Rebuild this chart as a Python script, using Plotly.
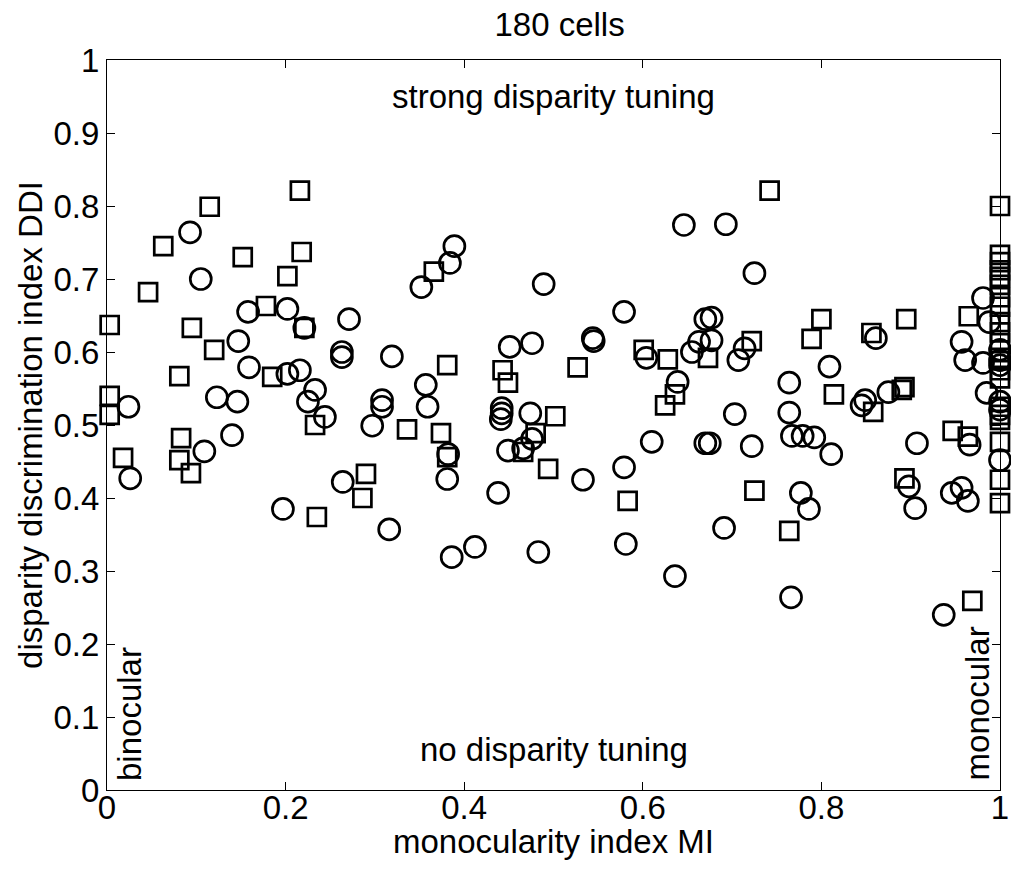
import plotly.graph_objects as go

# Circles (monocularity index MI, disparity discrimination index DDI)
circle_mi = [0.024, 0.026, 0.093, 0.105, 0.147, 0.158, 0.159, 0.123, 0.146, 0.140, 0.109,
             0.202, 0.221, 0.271, 0.263, 0.263, 0.319, 0.202, 0.216, 0.233, 0.225, 0.244,
             0.308, 0.308, 0.297, 0.264, 0.197, 0.316,
             0.389, 0.384, 0.352, 0.489, 0.357, 0.359, 0.451, 0.476, 0.442, 0.442, 0.441,
             0.474, 0.382, 0.381, 0.476, 0.466, 0.449, 0.438, 0.386, 0.412, 0.483,
             0.646, 0.579, 0.544, 0.545, 0.604, 0.655, 0.663, 0.670, 0.639, 0.533, 0.579,
             0.610, 0.670, 0.581, 0.636,
             0.693, 0.725, 0.677, 0.677, 0.714, 0.707, 0.809, 0.764, 0.703, 0.764, 0.675,
             0.722, 0.767, 0.779, 0.792, 0.811, 0.777, 0.786, 0.691, 0.766,
             0.981, 0.988, 0.957, 0.961, 0.981, 1.000, 1.000, 1.000, 0.985, 1.000, 0.861,
             0.875, 0.849, 0.845, 0.907, 0.966, 0.898, 0.905, 0.946, 0.957, 0.964, 0.937,
             1.000, 1.000]
circle_ddi = [0.525, 0.427, 0.764, 0.700, 0.615, 0.655, 0.579, 0.538, 0.532, 0.486, 0.464,
              0.659, 0.633, 0.645, 0.600, 0.593, 0.594, 0.570, 0.575, 0.548, 0.532, 0.511,
              0.534, 0.525, 0.499, 0.422, 0.385, 0.357,
              0.745, 0.722, 0.689, 0.693, 0.555, 0.525, 0.607, 0.612, 0.523, 0.516, 0.508,
              0.516, 0.460, 0.426, 0.481, 0.468, 0.465, 0.407, 0.319, 0.333, 0.326,
              0.774, 0.655, 0.619, 0.615, 0.592, 0.600, 0.614, 0.645, 0.559, 0.425, 0.442,
              0.477, 0.475, 0.337, 0.293,
              0.775, 0.708, 0.647, 0.616, 0.605, 0.589, 0.580, 0.558, 0.515, 0.517, 0.475,
              0.471, 0.485, 0.485, 0.483, 0.460, 0.407, 0.385, 0.359, 0.264,
              0.674, 0.641, 0.614, 0.589, 0.585, 0.603, 0.589, 0.582, 0.544, 0.532, 0.619,
              0.545, 0.534, 0.527, 0.475, 0.473, 0.416, 0.386, 0.407, 0.414, 0.396, 0.240,
              0.521, 0.452]

# Squares
square_mi = [0.003, 0.003, 0.003, 0.018, 0.046, 0.063, 0.115, 0.095, 0.120, 0.152, 0.081,
             0.083, 0.081, 0.094,
             0.216, 0.218, 0.202, 0.178, 0.221, 0.185, 0.233, 0.290, 0.286, 0.235,
             0.366, 0.381, 0.443, 0.449, 0.336, 0.374, 0.381, 0.502, 0.480, 0.466, 0.494,
             0.527, 0.601, 0.628, 0.636, 0.625, 0.583,
             0.742, 0.673, 0.722, 0.800, 0.789, 0.814, 0.725, 0.764,
             0.895, 0.856, 0.893, 0.890, 0.858, 0.947, 0.964, 0.893, 0.969, 0.965,
             1.000, 1.000, 1.000, 1.000, 1.000, 1.000, 1.000, 1.000, 1.000, 1.000, 1.000,
             1.000, 1.000, 1.000, 1.000, 1.000, 1.000, 1.000, 1.000, 1.000, 1.000]
square_ddi = [0.637, 0.540, 0.514, 0.455, 0.682, 0.745, 0.799, 0.633, 0.603, 0.730, 0.567,
              0.482, 0.452, 0.434,
              0.821, 0.737, 0.704, 0.663, 0.633, 0.566, 0.500, 0.433, 0.400, 0.374,
              0.710, 0.582, 0.575, 0.558, 0.494, 0.489, 0.456, 0.512, 0.489, 0.463, 0.440,
              0.579, 0.603, 0.590, 0.542, 0.527, 0.396,
              0.821, 0.592, 0.615, 0.645, 0.618, 0.542, 0.410, 0.355,
              0.645, 0.626, 0.552, 0.548, 0.518, 0.492, 0.484, 0.427, 0.259, 0.649,
              0.800, 0.733, 0.723, 0.712, 0.703, 0.692, 0.675, 0.662, 0.641, 0.627, 0.612,
              0.592, 0.575, 0.564, 0.525, 0.514, 0.507, 0.477, 0.425, 0.393]

x_ticks = [0, 0.2, 0.4, 0.6, 0.8, 1]
x_tick_labels = ["0", "0.2", "0.4", "0.6", "0.8", "1"]
y_ticks = [0, 0.1, 0.2, 0.3, 0.4, 0.5, 0.6, 0.7, 0.8, 0.9, 1]
y_tick_labels = ["0", "0.1", "0.2", "0.3", "0.4", "0.5", "0.6", "0.7", "0.8", "0.9", "1"]

FONT = "Liberation Sans, Arial, Helvetica, sans-serif"
FS = 33

fig = go.Figure()
fig.add_trace(go.Scatter(
    x=square_mi, y=square_ddi, mode="markers", cliponaxis=False,
    marker=dict(symbol="square-open", size=18, color="black", line=dict(width=2.7, color="black")),
    showlegend=False))
fig.add_trace(go.Scatter(
    x=circle_mi, y=circle_ddi, mode="markers", cliponaxis=False,
    marker=dict(symbol="circle-open", size=21, color="black", line=dict(width=2.7, color="black")),
    showlegend=False))

axis_common = dict(showline=True, linecolor="black", linewidth=1, mirror="ticks",
                   ticks="inside", ticklen=8, tickcolor="black", showgrid=False,
                   zeroline=False, automargin=False,
                   tickfont=dict(size=FS, color="black", family=FONT))

fig.update_xaxes(range=[0, 1], tickvals=x_ticks, ticktext=x_tick_labels, ticklabelstandoff=-12,
                 **axis_common)
fig.update_yaxes(range=[0, 1], tickvals=y_ticks, ticktext=y_tick_labels,
                 title=dict(text="disparity discrimination index DDI", font=dict(size=FS, color="black", family=FONT), standoff=0),
                 **axis_common)

# x-axis title placed just under the tick labels
fig.add_annotation(x=0.5, y=-0.071, xref="paper", yref="paper", text="monocularity index MI",
                   xanchor="center", yanchor="middle", showarrow=False,
                   font=dict(size=FS, color="black", family=FONT))
fig.add_annotation(x=0.5, y=0.95, xref="x", yref="y", text="strong disparity tuning",
                   showarrow=False, font=dict(size=FS, color="black", family=FONT))
fig.add_annotation(x=0.5, y=0.055, xref="x", yref="y", text="no disparity tuning",
                   showarrow=False, font=dict(size=FS, color="black", family=FONT))
fig.add_annotation(x=0.002, y=0.01, xref="x", yref="y", text="binocular", textangle=-90,
                   xanchor="left", yanchor="bottom", showarrow=False,
                   font=dict(size=FS, color="black", family=FONT))
fig.add_annotation(x=0.998, y=0.01, xref="x", yref="y", text="monocular", textangle=-90,
                   xanchor="right", yanchor="bottom", showarrow=False,
                   font=dict(size=FS, color="black", family=FONT))

fig.update_layout(
    width=1011, height=880,
    margin=dict(l=107, r=11, t=60, b=90, autoexpand=False),
    paper_bgcolor="white", plot_bgcolor="white",
    title=dict(text="180 cells", x=0.5535, xanchor="center", y=0.972, yanchor="middle",
               automargin=False, font=dict(size=FS, color="black", family=FONT)),
)

fig.write_html("out.html", config={"displayModeBar": False},
               post_script="document.body.style.margin='0';document.body.style.overflow='hidden';")
